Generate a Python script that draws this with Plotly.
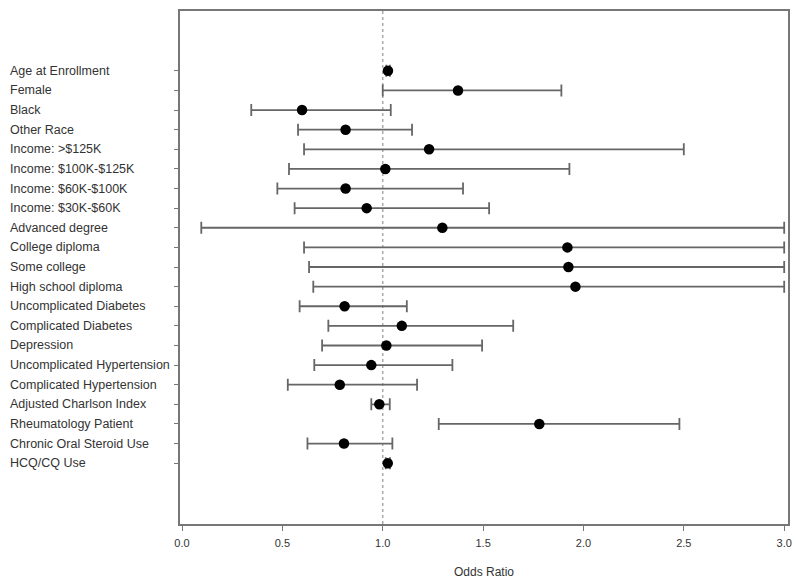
import plotly.graph_objects as go

# variables, top to bottom
labels = ['Age at Enrollment', 'Female', 'Black', 'Other Race', 'Income: >$125K',
          'Income: $100K-$125K', 'Income: $60K-$100K', 'Income: $30K-$60K',
          'Advanced degree', 'College diploma', 'Some college', 'High school diploma',
          'Uncomplicated Diabetes', 'Complicated Diabetes', 'Depression',
          'Uncomplicated Hypertension', 'Complicated Hypertension',
          'Adjusted Charlson Index', 'Rheumatology Patient',
          'Chronic Oral Steroid Use', 'HCQ/CQ Use']
odds_ratio = [1.026, 1.375, 0.598, 0.815, 1.231, 1.013, 0.815, 0.92, 1.297, 1.92, 1.925, 1.96,
              0.81, 1.095, 1.018, 0.943, 0.786, 0.983, 1.78, 0.807, 1.025]
ci_low = [1.018, 1.0, 0.345, 0.578, 0.608, 0.533, 0.475, 0.561, 0.096, 0.608, 0.633, 0.654,
          0.586, 0.729, 0.698, 0.659, 0.527, 0.943, 1.279, 0.625, 1.015]
ci_high = [1.036, 1.89, 1.04, 1.146, 2.50, 1.93, 1.40, 1.53, 3.0, 3.0, 3.0, 3.0,
           1.12, 1.65, 1.495, 1.347, 1.171, 1.035, 2.478, 1.048, 1.036]
x_ticks = [0.0, 0.5, 1.0, 1.5, 2.0, 2.5, 3.0]
ref_line = 1.0

rows = list(range(len(labels)))

fig = go.Figure()
fig.add_trace(go.Scatter(
    x=odds_ratio, y=rows, mode='markers',
    marker=dict(color='black', size=10.5),
    error_x=dict(type='data', symmetric=False,
                 array=[h - p for h, p in zip(ci_high, odds_ratio)],
                 arrayminus=[p - l for p, l in zip(odds_ratio, ci_low)],
                 color='#666666', thickness=1.8, width=6),
    showlegend=False, hoverinfo='skip'))

fig.add_vline(x=ref_line, line=dict(color='#aaaaaa', width=1.5, dash='dot'), layer='below')

# labels sit left-aligned at the page edge, not against the axis
for i, lab in enumerate(labels):
    fig.add_annotation(text=lab, x=-172 / 608, xref='paper', y=i, yref='y',
                       xanchor='left', showarrow=False,
                       font=dict(family='Liberation Sans, Arial', size=12.5, color='#333333'))

# the page body has an 8px margin, so the figure is sized a little smaller
fig.update_layout(
    width=792, height=575,
    margin=dict(l=172, r=12, t=1, b=59),
    plot_bgcolor='white', paper_bgcolor='white',
    font=dict(family='Liberation Sans, Arial', size=11, color='#333333'),
    xaxis=dict(range=[-0.01, 3.019], tickvals=x_ticks, ticktext=['%.1f' % t for t in x_ticks],
               showgrid=False, zeroline=False, showline=True, linecolor='#777777', linewidth=1.5,
               mirror=True, ticks='outside', ticklen=5, tickcolor='#777777',
               ticklabelstandoff=3,
               title=dict(text='Odds Ratio', font=dict(size=12), standoff=20)),
    yaxis=dict(range=[len(labels) + 2.1, -3.05], tickvals=rows, showticklabels=False,
               showgrid=False, zeroline=False, showline=True, linecolor='#777777', linewidth=1.5,
               mirror=True, ticks='outside', ticklen=4, tickcolor='#777777'),
)

fig.write_html('out.html')
